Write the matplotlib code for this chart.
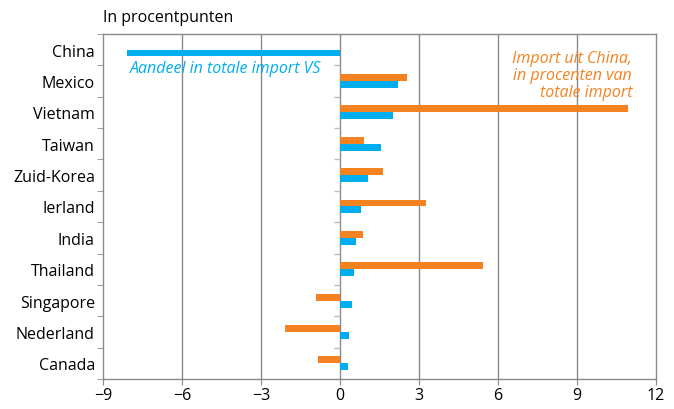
import numpy as np
import matplotlib.pyplot as plt

# landen en waarden (procentpunten)
landen = ['China', 'Mexico', 'Vietnam', 'Taiwan', 'Zuid-Korea', 'Ierland',
          'India', 'Thailand', 'Singapore', 'Nederland', 'Canada']
aandeel_vs = [-8.1, 2.2, 2.0, 1.55, 1.05, 0.78, 0.62, 0.54, 0.47, 0.36, 0.32]
import_china = [0.0, 2.55, 10.95, 0.92, 1.63, 3.28, 0.88, 5.44, -0.9, -2.09, -0.85]

blauw = '#00AEEF'
oranje = '#F58220'
grijs = '#8a8a8a'

plt.rcParams['font.family'] = ['Open Sans', 'DejaVu Sans']

fig = plt.figure(figsize=(6.74, 4.10), dpi=100)
ax = fig.add_axes([0.153, 0.073, 0.82, 0.842])

y = np.arange(len(landen))
h = 0.22
ax.barh(y - h / 2, import_china, height=h, color=oranje, zorder=3)
ax.barh(y + h / 2, aandeel_vs, height=h, color=blauw, zorder=3)

ax.set_xlim(-9, 12)
ax.set_ylim(len(landen) - 0.5, -0.5)
ax.set_xticks(range(-9, 13, 3))
ax.set_xticklabels([str(v).replace('-', '\u2212') for v in range(-9, 13, 3)], fontsize=11.5)
ax.set_yticks(y)
ax.set_yticklabels(landen, fontsize=11.5)
ax.tick_params(axis='y', length=0, pad=6)
ax.tick_params(axis='x', length=4, color=grijs, pad=2)

# kleine streepjes tussen de rijen
grenzen = np.arange(len(landen) + 1) - 0.5
ax.set_yticks(grenzen, minor=True)
ax.tick_params(axis='y', which='minor', length=4, color=grijs)
ax.hlines(grenzen[1:-1], -0.22, 0, color='#bbbbbb', lw=1, zorder=2)

for v in range(-6, 12, 3):
    ax.axvline(v, color=grijs, lw=1, zorder=1)
for s in ax.spines.values():
    s.set_color(grijs)
    s.set_linewidth(1)

fig.text(0.153, 0.955, 'In procentpunten', fontsize=11.5, ha='left', va='center')
ax.text(-8.0, 0.58, 'Aandeel in totale import VS', color=blauw, fontsize=11.5,
        style='italic', ha='left', va='center')
ax.text(11.1, 0.82, 'Import uit China,\nin procenten van\ntotale import', color=oranje,
        fontsize=11.5, style='italic', ha='right', va='center', linespacing=1.1)

fig.savefig('out.png', dpi=100)
